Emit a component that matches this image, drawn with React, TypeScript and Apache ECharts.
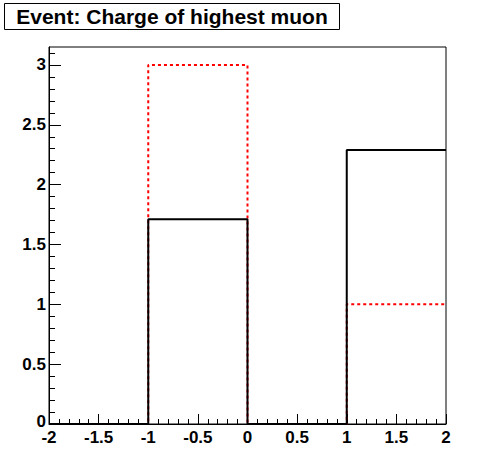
import React, { useEffect, useRef } from "react";
import * as echarts from "echarts";

const binEdges = [-2, -1, 0, 1, 2];
const blackCounts = [0, 1.71, 0, 2.29];
const redCounts = [0, 3, 0, 1];
const xMajorTicks = [-2, -1.5, -1, -0.5, 0, 0.5, 1, 1.5, 2];
const yMajorTicks = [0, 0.5, 1, 1.5, 2, 2.5, 3];
const yMinorTicks = [
  0.1, 0.2, 0.3, 0.4, 0.6, 0.7, 0.8, 0.9, 1.1, 1.2, 1.3, 1.4, 1.6, 1.7, 1.8, 1.9,
  2.1, 2.2, 2.3, 2.4, 2.6, 2.7, 2.8, 2.9, 3.1,
];
const titleText = "Event: Charge of highest muon";
const yMax = 3.15;

function stepData(edges: number[], counts: number[]) {
  const d: number[][] = [];
  for (let i = 0; i < counts.length; i++) d.push([edges[i], counts[i]]);
  d.push([edges[edges.length - 1], counts[counts.length - 1]]);
  return d;
}

const FONT = "'Liberation Sans', Arial, Helvetica, sans-serif";

export default function App() {
  const ref = useRef<HTMLDivElement>(null);
  useEffect(() => {
    if (!ref.current) return;
    const chart = echarts.init(ref.current, null, { renderer: "svg" });
    chart.setOption({
      animation: false,
      backgroundColor: "#ffffff",
      grid: {
        left: 49,
        right: 50,
        top: 47,
        bottom: 48,
        show: true,
        borderColor: "#000",
        borderWidth: 1,
      },
      xAxis: {
        type: "value",
        min: -2,
        max: 2,
        interval: 0.5,
        axisLine: { show: true, onZero: false, lineStyle: { color: "#000", width: 1 } },
        axisTick: { show: true, inside: true, length: 10, lineStyle: { color: "#000", width: 1 } },
        minorTick: { show: true, splitNumber: 5, length: 5, lineStyle: { color: "#000", width: 1 } },
        splitLine: { show: false },
        axisLabel: {
          color: "#000",
          fontFamily: FONT,
          fontWeight: "bold",
          fontSize: 17,
          lineHeight: 13,
          margin: 7,
          customValues: xMajorTicks,
          formatter: (v: number) => String(v),
        },
      },
      yAxis: [
        {
          type: "value",
          position: "left",
          min: 0,
          max: yMax,
          axisLine: { show: true, onZero: false, lineStyle: { color: "#000", width: 1 } },
          axisTick: {
            show: true,
            inside: true,
            length: 12,
            customValues: yMajorTicks,
            lineStyle: { color: "#000", width: 1 },
          },
          splitLine: { show: false },
          axisLabel: {
            color: "#000",
            fontFamily: FONT,
            fontWeight: "bold",
            fontSize: 17,
            lineHeight: 11,
            margin: 3,
            customValues: yMajorTicks,
            formatter: (v: number) => (v === 0 ? "{z|0}" : String(v)),
            rich: {
              z: {
                color: "#000",
                fontFamily: FONT,
                fontWeight: "bold",
                fontSize: 17,
                lineHeight: 11,
                padding: [0, 0, 5, 0],
              },
            },
          },
        },
        {
          type: "value",
          position: "left",
          offset: 0,
          min: 0,
          max: yMax,
          axisLine: { show: false, onZero: false },
          axisTick: {
            show: true,
            inside: true,
            length: 6,
            customValues: yMinorTicks,
            lineStyle: { color: "#000", width: 1 },
          },
          splitLine: { show: false },
          axisLabel: { show: false },
        },
      ],
      series: [
        {
          type: "line",
          step: "end",
          data: stepData(binEdges, redCounts),
          symbol: "none",
          clip: false,
          z: 2,
          lineStyle: { color: "#ff0000", width: 2, type: [3, 3] },
        },
        {
          type: "line",
          step: "end",
          data: stepData(binEdges, blackCounts),
          symbol: "none",
          clip: false,
          z: 3,
          lineStyle: { color: "#000000", width: 2 },
        },
      ],
      graphic: [
        {
          type: "rect",
          left: 4,
          top: 3,
          shape: { width: 335, height: 26 },
          style: { fill: "#fff", stroke: "#000", lineWidth: 1 },
          z: 10,
        },
        {
          type: "text",
          x: 172,
          y: 16.5,
          z: 11,
          style: {
            text: titleText,
            fill: "#000",
            font: `bold 21px ${FONT}`,
            textAlign: "center",
            textVerticalAlign: "middle",
          },
        },
      ],
    });
    return () => chart.dispose();
  }, []);
  return (
    <div
      ref={ref}
      style={{ position: "absolute", left: 0, top: 0, width: 496, height: 472, background: "#fff" }}
    />
  );
}
